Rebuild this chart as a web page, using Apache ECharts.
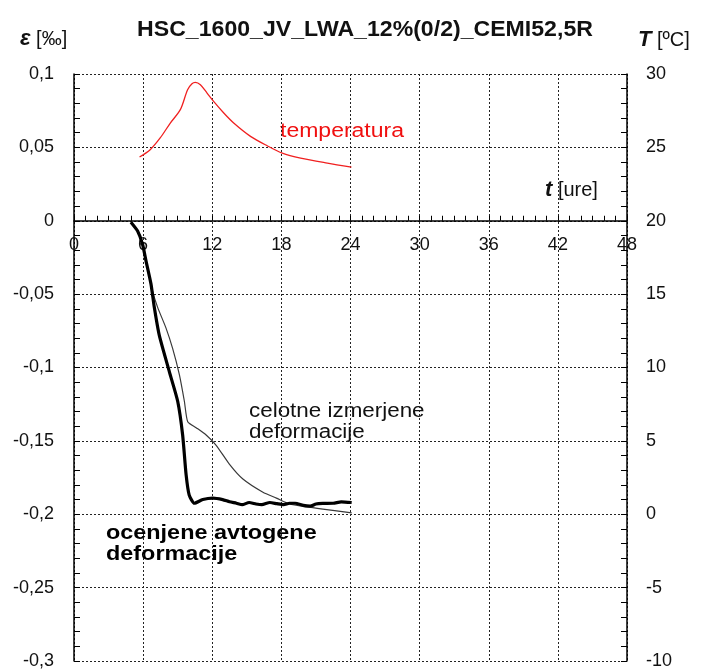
<!DOCTYPE html>
<html>
<head>
<meta charset="utf-8">
<script src="https://cdn.jsdelivr.net/npm/echarts@6/dist/echarts.min.js"></script>
<style>
html,body{margin:0;padding:0;background:#fff;}
#chart{width:703px;height:670px;}
</style>
</head>
<body>
<div id="chart"></div>
<script>
// ---- data ----
var titleText = 'HSC_1600_JV_LWA_12%(0/2)_CEMI52,5R';
var xTicks = [0, 6, 12, 18, 24, 30, 36, 42, 48];
var leftTicks = [-0.3, -0.25, -0.2, -0.15, -0.1, -0.05, 0, 0.05, 0.1];
var rightTicks = [-10, -5, 0, 5, 10, 15, 20, 25, 30];

// temperatura (right axis, °C)
var tempT = [5.69, 6.61, 7.48, 8.36, 9.23, 9.86, 10.24, 10.53, 10.97, 11.55, 12.12, 13.0, 13.86, 15.32, 16.77, 18.08, 19.67, 21.99, 24.08];
var tempV = [24.34, 24.84, 25.64, 26.66, 27.57, 28.93, 29.34, 29.43, 29.27, 28.7, 28.13, 27.34, 26.66, 25.75, 25.11, 24.61, 24.27, 23.93, 23.66];

// celotne izmerjene deformacije (thin)
var totalT = [4.94, 5.66, 6.24, 6.82, 7.26, 7.98, 8.56, 9.15, 9.58, 9.87, 10.6, 11.47, 12.34, 13.5, 14.66, 16.4, 17.57, 18.7, 20.2, 21.6, 24.1];
var totalV = [-0.001, -0.009, -0.027, -0.048, -0.059, -0.073, -0.087, -0.105, -0.123, -0.137, -0.141, -0.146, -0.153, -0.166, -0.176, -0.185, -0.189, -0.193, -0.195, -0.1965, -0.199];

// ocenjene avtogene deformacije (thick)
var autoT = [4.94, 5.52, 5.95, 6.24, 6.68, 6.97, 7.40, 8.28, 9.0, 9.43, 9.73, 10.0, 10.45, 11.18, 12.05, 12.9, 13.5, 14.1, 14.6, 15.2, 15.8, 16.3, 17.0, 17.6, 18.2, 18.7, 19.2, 19.9, 20.5, 21.0, 21.6, 22.5, 23.2, 24.1];
var autoV = [-0.001, -0.007, -0.016, -0.027, -0.043, -0.059, -0.078, -0.103, -0.123, -0.146, -0.173, -0.187, -0.1925, -0.190, -0.189, -0.190, -0.1915, -0.1925, -0.1935, -0.192, -0.193, -0.1935, -0.192, -0.1928, -0.1935, -0.1925, -0.1925, -0.194, -0.1945, -0.193, -0.1926, -0.1925, -0.1915, -0.192];

function zip(a, b) { return a.map(function (v, i) { return [v, b[i]]; }); }

var FONT = '"Liberation Sans", Arial, sans-serif';
var gridLine = { show: true, lineStyle: { color: '#222', type: [2, 2], width: 1 } };
var GRID = { left: 74, right: 76, top: 74, bottom: 9 };
var plotH = 670 - GRID.top - GRID.bottom;
// place the time axis on the zero line of the strain axis
var zeroOffset = -plotH * (0 - leftTicks[0]) / (leftTicks[leftTicks.length - 1] - leftTicks[0]);

var chart = echarts.init(document.getElementById('chart'));
chart.setOption({
  animation: false,
  backgroundColor: '#fff',
  textStyle: { fontFamily: FONT },
  grid: { left: GRID.left, right: GRID.right, top: GRID.top, bottom: GRID.bottom, containLabel: false },
  xAxis: {
    type: 'value', min: xTicks[0], max: xTicks[xTicks.length - 1], interval: 6,
    offset: zeroOffset,
    axisLine: { show: true, onZero: false, lineStyle: { color: '#000', width: 1.5 } },
    axisTick: { show: true, inside: true, length: 5, lineStyle: { color: '#000' } },
    minorTick: { show: true, splitNumber: 6, length: 5, lineStyle: { color: '#000' } },
    axisLabel: { fontSize: 18, color: '#111', margin: 15, fontFamily: FONT },
    splitLine: gridLine
  },
  yAxis: [{
    type: 'value', min: leftTicks[0], max: leftTicks[leftTicks.length - 1], interval: 0.05,
    axisLine: { show: true, onZero: false, lineStyle: { color: '#000', width: 1.5 } },
    axisTick: { show: true, inside: true, length: 6, lineStyle: { color: '#000' } },
    minorTick: { show: true, splitNumber: 5, length: 6, lineStyle: { color: '#000' } },
    axisLabel: { fontSize: 18, color: '#111', margin: 20, fontFamily: FONT,
      formatter: function (v) { return String(+v.toFixed(2)).replace('.', ','); } },
    splitLine: gridLine
  }, {
    type: 'value', position: 'right', min: rightTicks[0], max: rightTicks[rightTicks.length - 1], interval: 5,
    axisLine: { show: true, onZero: false, lineStyle: { color: '#000', width: 1.5 } },
    axisTick: { show: true, inside: true, length: 6, lineStyle: { color: '#000' } },
    minorTick: { show: true, splitNumber: 5, length: 6, lineStyle: { color: '#000' } },
    axisLabel: { fontSize: 18, color: '#111', margin: 19, fontFamily: FONT },
    splitLine: { show: false }
  }],
  series: [{
    name: 'temperatura', type: 'line', yAxisIndex: 1, smooth: 0.3, showSymbol: false,
    data: zip(tempT, tempV), lineStyle: { color: '#f02020', width: 1.3 }, z: 3
  }, {
    name: 'celotne', type: 'line', yAxisIndex: 0, smooth: 0.2, showSymbol: false,
    data: zip(totalT, totalV), lineStyle: { color: '#3a3a3a', width: 1.2 }, z: 3
  }, {
    name: 'avtogene', type: 'line', yAxisIndex: 0, smooth: 0.2, showSymbol: false,
    data: zip(autoT, autoV), lineStyle: { color: '#000', width: 3.2 }, z: 4
  }],
  graphic: [
    { type: 'text', x: 365, y: 30, scaleX: 1.05, style: { text: titleText, font: 'bold 22px ' + FONT, fill: '#111', align: 'center', verticalAlign: 'middle' } },
    { type: 'text', x: 20, y: 39, style: { text: '{e|ε} [‰]', font: '20px ' + FONT, fill: '#111', verticalAlign: 'middle',
      rich: { e: { font: 'bold italic 22px ' + FONT, fill: '#111' } } } },
    { type: 'text', x: 638, y: 40, style: { text: '{e|T} [ºC]', font: '20px ' + FONT, fill: '#111', verticalAlign: 'middle',
      rich: { e: { font: 'bold italic 22px ' + FONT, fill: '#111' } } } },
    { type: 'text', x: 545, y: 190, style: { text: '{e|t} [ure]', font: '20px ' + FONT, fill: '#111', verticalAlign: 'middle',
      rich: { e: { font: 'bold italic 22px ' + FONT, fill: '#111' } } } },
    { type: 'text', x: 280, y: 131, scaleX: 1.15, style: { text: 'temperatura', font: '20px ' + FONT, fill: '#f01010', verticalAlign: 'middle' } },
    { type: 'text', x: 249, y: 401, scaleX: 1.12, style: { text: 'celotne izmerjene\ndeformacije', font: '20px ' + FONT, lineHeight: 21, fill: '#111' } },
    { type: 'text', x: 106, y: 523, scaleX: 1.17, style: { text: 'ocenjene avtogene\ndeformacije', font: 'bold 20px ' + FONT, lineHeight: 21, fill: '#000' } }
  ]
});
</script>
</body>
</html>
